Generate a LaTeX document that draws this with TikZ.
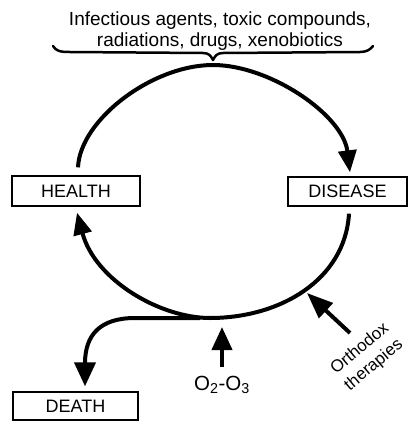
\documentclass[tikz,border=0pt]{standalone}
\usepackage{fontspec}
\setmainfont{Liberation Sans}
\usetikzlibrary{arrows.meta,calc}
\begin{document}
\begin{tikzpicture}[x=1pt,y=-1pt,
  statebox/.style={draw,line width=1.3pt,inner sep=0pt,font=\fontsize{18}{20}\selectfont},
  flow/.style={line width=4pt},
  bighead/.style={-{Triangle[length=22pt,width=18pt]}},
  lbl/.style={inner sep=0pt,align=center}]
\useasboundingbox (0,0) rectangle (408,421);
\fill[white] (0,0) rectangle (408,421);
% nodes
\node[statebox,minimum width=128pt,minimum height=30pt] (health) at (76,191) {HEALTH};
\node[statebox,minimum width=119pt,minimum height=29pt] (disease) at (347.5,191.5) {DISEASE};
\node[statebox,minimum width=125pt,minimum height=28pt] (death) at (75.5,406) {DEATH};
\node[lbl,font=\fontsize{19}{21}\selectfont] (agents) at (220,31) {Infectious agents, toxic compounds,\\radiations, drugs, xenobiotics};
\node[lbl,font=\fontsize{20.5}{22}\selectfont] (o2) at (222,385) {O\textsubscript{2}-O\textsubscript{3}};
\node[lbl,font=\fontsize{17}{21.5}\selectfont,rotate=40] (ortho) at (367,357) {Orthodox\\therapies};
\coordinate (btip) at (213,60);
% brace
\draw[line width=2.5pt,line cap=round,line join=round]
  (53,46) .. controls (56,51) and (60,52) .. (70,52) -- (203,53)
  .. controls (209,53) and (211,56) .. (btip)
  .. controls (215,56) and (217,53) .. (223,53) -- (360,52)
  .. controls (366,52) and (370,50) .. (373,46);
% cycle
\draw[flow,bighead] ($(health.north)+(2,-8)$) .. controls (80,120) and (152,65) .. (213,65)
  .. controls (270,65) and (343,115) .. ($(disease.north)+(2.5,-4)$);
\draw[flow,bighead] ($(disease.south)+(1.5,7)$) .. controls (345,280) and (280,318) .. (210,318)
  .. controls (160,318) and (95,280) .. ($(health.south)+(1,6)$);
% death branch
\draw[flow,-{Triangle[length=24pt,width=21pt]}] (200,318) -- (135,318)
  .. controls (100,318) and (85,335) .. ($(death.north)+(9.5,-5)$);
% inputs
\draw[flow,-{Triangle[length=23pt,width=20pt]}] ($(o2.north)+(0,-9)$) -- (222,327);
\coordinate (ostart) at (350,333);
\draw[flow,-{Triangle[length=26pt,width=20pt]}] (ostart) -- (307,293);
\end{tikzpicture}
\end{document}
